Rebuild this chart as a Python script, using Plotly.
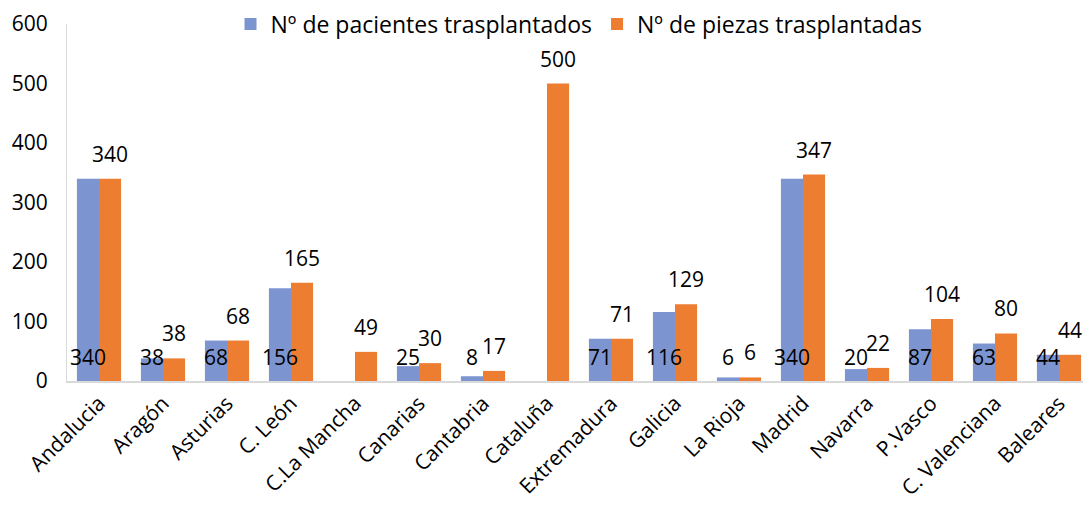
import plotly.graph_objects as go

categories = ["Andalucia", "Aragón", "Asturias", "C. León", "C.La Mancha", "Canarias",
              "Cantabria", "Cataluña", "Extremadura", "Galicia", "La Rioja", "Madrid",
              "Navarra", "P.Vasco", "C. Valenciana", "Baleares"]
pacientes = [340, 38, 68, 156, None, 25, 8, None, 71, 116, 6, 340, 20, 87, 63, 44]
piezas = [340, 38, 68, 165, 49, 30, 17, 500, 71, 129, 6, 347, 22, 104, 80, 44]
y_ticks = [0, 100, 200, 300, 400, 500, 600]

BLUE = "#7C95D1"
ORANGE = "#ED7D31"
FONT = "Open Sans"

fig = go.Figure()
fig.add_trace(go.Bar(x=categories, y=pacientes, name="Nº de pacientes trasplantados",
                     marker=dict(color=BLUE, line=dict(width=0))))
fig.add_trace(go.Bar(x=categories, y=piezas, name="Nº de piezas trasplantadas",
                     marker=dict(color=ORANGE, line=dict(width=0))))

bar_px = 11
annotations = []
for c, v in zip(categories, pacientes):
    if v is None:
        continue
    annotations.append(dict(x=c, y=0, xref="x", yref="y", text=str(v), showarrow=False,
                            xshift=-bar_px, yshift=24, yanchor="middle",
                            font=dict(family=FONT, size=21, color="#000000")))
for c, v in zip(categories, piezas):
    if v is None:
        continue
    annotations.append(dict(x=c, y=v, xref="x", yref="y", text=str(v), showarrow=False,
                            xshift=bar_px, yshift=25, yanchor="middle",
                            font=dict(family=FONT, size=21, color="#000000")))

fig.update_layout(
    width=1083, height=501,
    margin=dict(l=59, r=0, t=16, b=128, autoexpand=False),
    paper_bgcolor="white", plot_bgcolor="white",
    barmode="group", bargap=0.31, bargroupgap=0,
    font=dict(family=FONT, size=21, color="#000000"),
    legend=dict(orientation="h", x=0.5, xanchor="center", y=1.0, yanchor="middle",
                bgcolor="rgba(0,0,0,0)", font=dict(size=23), traceorder="normal",
                itemwidth=30),
    annotations=annotations,
    xaxis=dict(showgrid=False, showline=True, linecolor="#D9D9D9", linewidth=1.5,
               tickangle=-45, ticks="", tickfont=dict(size=21), automargin=False),
    yaxis=dict(range=[0, 600], tickvals=y_ticks, showgrid=False, zeroline=False,
               showline=True, linecolor="#D9D9D9", linewidth=1, automargin=False,
               ticks="", ticklabelstandoff=14, tickfont=dict(size=21),
               ticklabeloverflow="allow"),
)

fig.write_html("out.html")
